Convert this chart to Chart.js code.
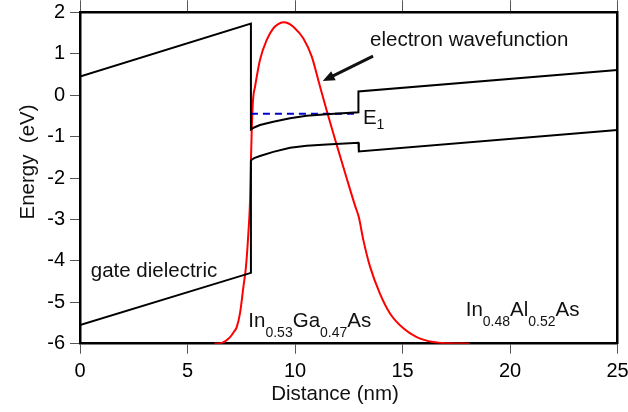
<!DOCTYPE html>
<html>
<head>
<meta charset="utf-8">
<script src="https://cdn.jsdelivr.net/npm/chart.js@4.4.1/dist/chart.umd.min.js"></script>
<style>
  body { margin: 0; background: #fff; }
  #wrap { width: 628px; height: 412px; }
</style>
</head>
<body>
<div id="wrap"><canvas id="myChart" width="628" height="412"></canvas></div>
<script>
/* Band diagram: gate dielectric / InGaAs / InAlAs with first subband wavefunction. */
const FONT = "'Liberation Sans', Arial, sans-serif";

// conduction band edge (dielectric -> InGaAs well -> InAlAs barrier)
const cbX = [0, 7.95, 7.95, 8.1, 8.37, 8.99, 9.77, 10.54, 11.47, 12.95, 12.95, 25];
const cbY = [0.45, 1.73, -0.83, -0.78, -0.72, -0.64, -0.56, -0.5, -0.46, -0.415, 0.09, 0.61];

// valence band edge
const vbX = [0, 7.95, 7.95, 8.1, 8.37, 8.99, 9.77, 10.54, 11.47, 12.95, 12.97, 25];
const vbY = [-5.55, -4.29, -1.57, -1.52, -1.47, -1.37, -1.27, -1.22, -1.19, -1.15, -1.36, -0.84];

// first subband energy E1
const e1X = [7.95, 12.95];
const e1Y = [-0.45, -0.45];

// electron wavefunction (offset to -6 baseline)
const psiX = [6.25, 6.6, 6.98, 7.15, 7.29, 7.44, 7.6, 7.72, 7.83, 7.91, 7.95, 7.99, 8.05, 8.14,
  8.37, 8.68, 8.99, 9.2, 9.46, 9.7, 9.92, 10.39, 10.78, 11.1, 11.5, 11.94, 12.4, 12.8,
  12.97, 13.18, 13.49, 13.95, 14.42, 15.04, 15.66, 16.43, 17.2, 18.14];
const psiY = [-6.0, -5.98, -5.84, -5.72, -5.6, -5.27, -4.63, -4.14, -3.34, -2.53, -1.6, -0.8, -0.1, 0.2,
  0.85, 1.33, 1.61, 1.71, 1.76, 1.73, 1.65, 1.37, 0.93, 0.33, -0.42, -1.2, -2.0, -2.68,
  -2.95, -3.5, -4.14, -4.79, -5.27, -5.63, -5.84, -5.96, -5.99, -6.0];

const xTicks = [0, 5, 10, 15, 20, 25];
const yTicks = [-6, -5, -4, -3, -2, -1, 0, 1, 2];

function pts(xs, ys) {
  return xs.map((x, i) => ({ x: x, y: ys[i] }));
}

// text labels, placed in data coordinates (x, baseline y)
const notes = [
  { x: 13.49, y: 1.186, parts: [["electron wavefunction"]] },
  { x: 0.5, y: -4.38, parts: [["gate dielectric"]] },
  { x: 13.16, y: -0.70, sub: 5, parts: [["E"], ["1", true]] },
  { x: 7.83, y: -5.59, sub: 10, parts: [["In"], ["0.53", true], ["Ga"], ["0.47", true], ["As"]] },
  { x: 17.94, y: -5.33, sub: 10, parts: [["In"], ["0.48", true], ["Al"], ["0.52", true], ["As"]] },
];

const notePlugin = {
  id: "notes",
  afterDatasetsDraw(chart) {
    const ctx = chart.ctx;
    const xs = chart.scales.x, ys = chart.scales.y;
    ctx.save();
    ctx.fillStyle = "#111";
    ctx.textBaseline = "alphabetic";
    ctx.textAlign = "left";
    notes.forEach((n) => {
      let px = xs.getPixelForValue(n.x);
      const py = ys.getPixelForValue(n.y);
      n.parts.forEach((p) => {
        ctx.font = (p[1] ? "14px " : "20.5px ") + FONT;
        ctx.fillText(p[0], px, p[1] ? py + n.sub : py);
        px += ctx.measureText(p[0]).width;
      });
    });

    // arrow pointing at the wavefunction
    const x0 = xs.getPixelForValue(13.63), y0 = ys.getPixelForValue(0.944);
    const x1 = xs.getPixelForValue(11.29), y1 = ys.getPixelForValue(0.34);
    const ang = Math.atan2(y1 - y0, x1 - x0);
    const hl = 13;
    ctx.strokeStyle = "#111";
    ctx.lineWidth = 3;
    ctx.beginPath();
    ctx.moveTo(x0, y0);
    ctx.lineTo(x1 - Math.cos(ang) * hl * 0.8, y1 - Math.sin(ang) * hl * 0.8);
    ctx.stroke();
    ctx.beginPath();
    ctx.moveTo(x1, y1);
    ctx.lineTo(x1 - hl * Math.cos(ang - 0.4), y1 - hl * Math.sin(ang - 0.4));
    ctx.lineTo(x1 - hl * Math.cos(ang + 0.4), y1 - hl * Math.sin(ang + 0.4));
    ctx.closePath();
    ctx.fill();

    // axis titles
    ctx.font = "20.5px " + FONT;
    ctx.textAlign = "center";
    ctx.fillText("Distance (nm)", 335, 400);
    ctx.translate(34, 162);
    ctx.rotate(-Math.PI / 2);
    ctx.fillText("Energy  (eV)", 0, 0);
    ctx.restore();
  },
};

const blackLine = { borderColor: "#000", borderWidth: 2, pointRadius: 0, tension: 0, fill: false };

function noPad(s) {
  s.paddingLeft = 0;
  s.paddingRight = 0;
  s.paddingTop = 0;
  s.paddingBottom = 0;
}

new Chart(document.getElementById("myChart"), {
  type: "line",
  data: {
    datasets: [
      Object.assign({ label: "Ec", data: pts(cbX, cbY) }, blackLine),
      Object.assign({ label: "Ev", data: pts(vbX, vbY) }, blackLine),
      { label: "E1", data: pts(e1X, e1Y), borderColor: "#0000cc", borderWidth: 2,
        borderDash: [7, 5], pointRadius: 0, fill: false },
      { label: "psi", data: pts(psiX, psiY), borderColor: "#ff0000", borderWidth: 2,
        pointRadius: 0, cubicInterpolationMode: "monotone", fill: false },
    ],
  },
  options: {
    responsive: false,
    animation: false,
    layout: { padding: 0 },
    plugins: { legend: { display: false }, tooltip: { enabled: false } },
    scales: {
      x: {
        type: "linear", position: "bottom", min: 0, max: 25,
        afterBuildTicks: (s) => { s.ticks = xTicks.map((v) => ({ value: v })); },
        ticks: { color: "#000", font: { family: FONT, size: 20 }, padding: 6, maxRotation: 0 },
        grid: { drawOnChartArea: false, tickLength: 10, color: "#555", lineWidth: 1 },
        border: { color: "#000", width: 2.5 },
        afterFit: (s) => { s.height = 68.3; noPad(s); },
      },
      x2: {
        type: "linear", position: "top", min: 0, max: 25,
        afterBuildTicks: (s) => { s.ticks = xTicks.map((v) => ({ value: v })); },
        ticks: { display: false },
        grid: { drawOnChartArea: false, tickLength: 12, color: "#555", lineWidth: 1 },
        border: { color: "#000", width: 2.5 },
        afterFit: (s) => { s.height = 12.3; noPad(s); },
      },
      y: {
        type: "linear", position: "left", min: -6, max: 2,
        afterBuildTicks: (s) => { s.ticks = yTicks.map((v) => ({ value: v })); },
        ticks: { color: "#000", font: { family: FONT, size: 20 }, padding: 5 },
        grid: { drawOnChartArea: false, tickLength: 10, color: "#555", lineWidth: 1 },
        border: { color: "#000", width: 2.5 },
        afterFit: (s) => { s.width = 80; noPad(s); },
      },
      y2: {
        type: "linear", position: "right", min: -6, max: 2, display: true,
        ticks: { display: false },
        grid: { display: false },
        border: { color: "#000", width: 2.5 },
        afterFit: (s) => { s.width = 10.5; noPad(s); },
      },
    },
  },
  plugins: [notePlugin],
});
</script>
</body>
</html>
